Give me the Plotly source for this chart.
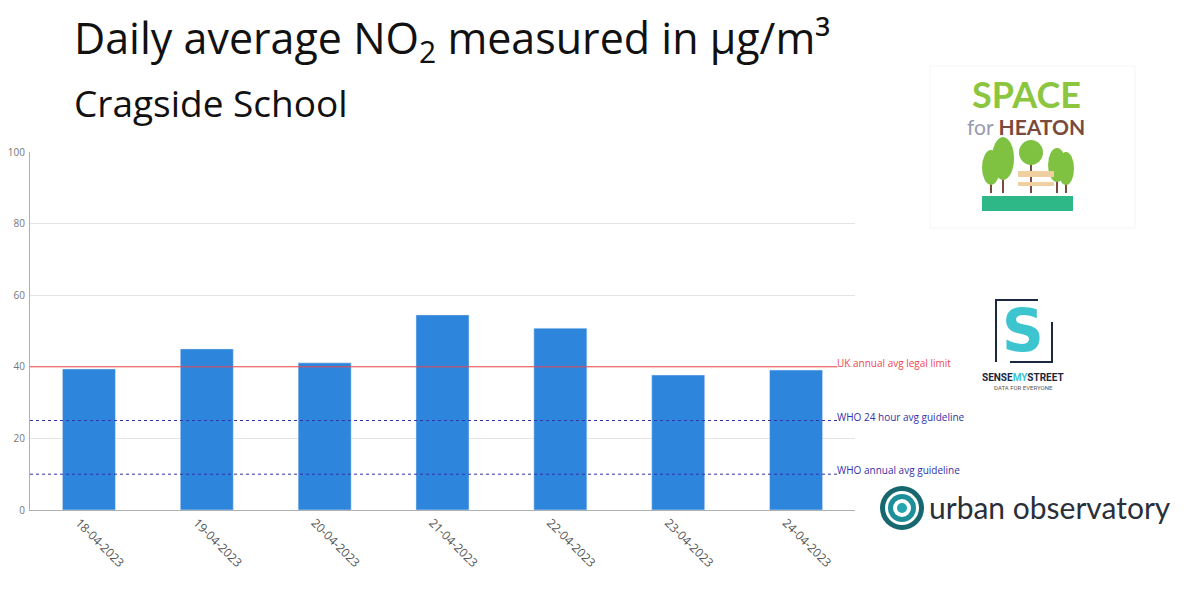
import plotly.graph_objects as go

dates = ["18-04-2023", "19-04-2023", "20-04-2023", "21-04-2023",
         "22-04-2023", "23-04-2023", "24-04-2023"]
no2 = [39.4, 45.0, 41.1, 54.5, 50.8, 37.7, 39.1]

ref_values = [40, 25, 10]
ref_labels = ["UK annual avg legal limit", "WHO 24 hour avg guideline", "WHO annual avg guideline"]
ref_colors = ["#f0474f", "#3232aa", "#3232aa"]
ref_dash = ["solid", "3px,3px", "3px,3px"]

fig = go.Figure()
fig.add_trace(go.Bar(x=dates, y=no2, marker_color="#2e86dc", width=0.45,
                     hoverinfo="x+y"))

line_end = 6.35
for v, lab, c, d in zip(ref_values, ref_labels, ref_colors, ref_dash):
    fig.add_shape(type="line", xref="x", yref="y", x0=-0.5, x1=line_end, y0=v, y1=v,
                  line=dict(color=c, width=1, dash=d), layer="above")
    fig.add_annotation(x=line_end, y=v, xref="x", yref="y", text=lab, showarrow=False,
                       xanchor="left", yanchor="bottom", xshift=-2, yshift=-5,
                       font=dict(size=10, color=c, family="Open Sans"))


def px(xp):
    return (xp - 30) / 825


def py(yp):
    return (510 - yp) / 358


def text(xp, yp, t, size, color, family="Open Sans", xanchor="center"):
    fig.add_annotation(xref="paper", yref="paper", x=px(xp), y=py(yp), text=t,
                       showarrow=False, xanchor=xanchor, yanchor="middle",
                       font=dict(size=size, color=color, family=family))


# Titles
text(72, 40, "Daily average NO<sub>2</sub> measured in μg/m³", 43, "#111111", xanchor="left")
text(72, 103, "Cragside School", 37, "#111111", xanchor="left")

# Space for Heaton logo (approximation)
fig.add_shape(type="rect", xref="paper", yref="paper", x0=px(930), x1=px(1135), y0=py(228), y1=py(66),
              line=dict(color="#f4f4f4", width=1))
fig.add_shape(type="rect", xref="paper", yref="paper", x0=px(982), x1=px(1073), y0=py(211), y1=py(196),
              fillcolor="#2fb887", line=dict(width=0))
for cx, w, top, bot in [(991, 9, 150, 185), (1003, 11, 137, 180), (1031, 12, 140, 165),
                        (1057, 9, 148, 182), (1066, 8, 152, 185)]:
    fig.add_shape(type="line", xref="paper", yref="paper", x0=px(cx), x1=px(cx),
                  y0=py(193), y1=py(bot - 5), line=dict(color="#7a4b3c", width=2))
    fig.add_shape(type="circle", xref="paper", yref="paper", x0=px(cx - w), x1=px(cx + w),
                  y0=py(bot), y1=py(top), fillcolor="#7fc241", line=dict(width=0))
fig.add_shape(type="rect", xref="paper", yref="paper", x0=px(1018), x1=px(1054), y0=py(177), y1=py(171),
              fillcolor="#f0cfa0", line=dict(width=0))
fig.add_shape(type="rect", xref="paper", yref="paper", x0=px(1018), x1=px(1054), y0=py(186), y1=py(182),
              fillcolor="#f0cfa0", line=dict(width=0))
text(1026, 94, "<b>SPACE</b>", 36, "#8cc63f", family="Lato")
text(1026, 126, "<span style='color:#9a9aae'>for </span><b>HEATON</b>", 21, "#7a4b3c", family="Lato")

# SenseMyStreet logo (approximation)
fig.add_shape(type="path", xref="paper", yref="paper",
              path=f"M {px(1038)} {py(300)} L {px(996)} {py(300)} L {px(996)} {py(362)}",
              line=dict(color="#1c2740", width=2))
fig.add_shape(type="path", xref="paper", yref="paper",
              path=f"M {px(1010)} {py(362)} L {px(1052)} {py(362)} L {px(1052)} {py(322)}",
              line=dict(color="#1c2740", width=2))
text(1023, 331, "<b>S</b>", 58, "#3cc4cf", family="DejaVu Sans")
text(1023, 377, "<b>SENSE<span style='color:#3cc4cf'>MY</span>STREET</b>", 10, "#1c2740", family="Roboto")
text(1023, 387, "DATA FOR EVERYONE", 6, "#555555", family="Roboto")

# Urban observatory logo (approximation)
for r, c in [(22, "#17676f"), (17, "#ffffff"), (14, "#1e8f99"), (9, "#ffffff"), (5, "#25a5b0")]:
    fig.add_shape(type="circle", xref="paper", yref="paper", x0=px(902 - r), x1=px(902 + r),
                  y0=py(508 + r), y1=py(508 - r), fillcolor=c, line=dict(width=0))
text(927, 507, "urban observatory", 30, "#2a2f3a", family="Lato", xanchor="left")

fig.update_layout(
    width=1200, height=600,
    margin=dict(l=30, r=345, t=152, b=90),
    paper_bgcolor="white", plot_bgcolor="white",
    showlegend=False,
    font=dict(family="Open Sans", color="#555555"),
    xaxis=dict(tickangle=45, tickfont=dict(size=12, color="#555555"), showgrid=False,
               showline=True, linecolor="#b0b0b0", linewidth=1, range=[-0.5, 6.5], ticks="",
               ticklabelshift=-10, automargin=False),
    yaxis=dict(range=[0, 100], dtick=20, tickfont=dict(size=10, color="#777777"),
               showgrid=True, gridcolor="#e4e4e4", showline=True, linecolor="#b0b0b0",
               linewidth=1, zeroline=False, ticks="", ticklabelstandoff=2, automargin=False),
)

fig.write_html("out.html")
